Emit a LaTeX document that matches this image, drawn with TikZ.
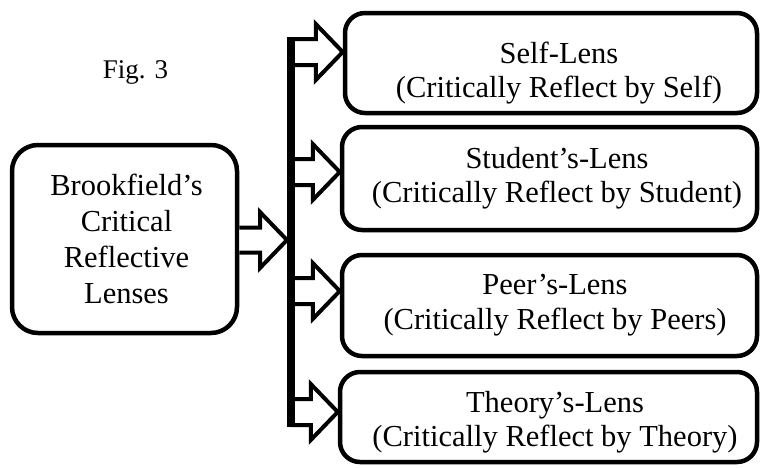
\documentclass[tikz,border=0pt]{standalone}
\usepackage{fontspec}
\setmainfont{Liberation Serif}
\usetikzlibrary{calc}
\begin{document}
\begin{tikzpicture}[x=1pt,y=-1pt,
  box/.style={draw=black,fill=white,line width=4.5pt,rounded corners=20pt,inner sep=0pt},
  txt/.style={align=center,inner sep=0pt,font=\fontsize{30.5}{34.5}\selectfont},
  blk/.style={draw=black,fill=white,line width=4pt,line join=miter},
  barline/.style={draw=black,line width=8pt}]
\useasboundingbox (0,0) rectangle (760,467);
% boxes
\node[box,rounded corners=26pt,minimum width=225pt,minimum height=188pt] (L) at (124.5,239) {};
\node[box,minimum width=412pt,minimum height=100pt] (s1) at (551,63) {};
\node[box,minimum width=415pt,minimum height=103pt] (s2) at (549.5,178.5) {};
\node[box,minimum width=415pt,minimum height=101pt] (s3) at (549.5,305.5) {};
\node[box,minimum width=417pt,minimum height=90pt] (s4) at (548.5,417) {};
% texts
\node[anchor=base,inner sep=0pt,font=\fontsize{27}{30}\selectfont] (fig) at (135.5,78) {Fig. 3};
\node[txt,font=\fontsize{30.5}{36}\selectfont] (tL) at (126.5,238.5) {Brookfield’s\\Critical\\Reflective\\Lenses};
\node[txt] (t1) at (559,72.8) {Self-Lens\\(Critically Reflect by Self)};
\node[txt] (t2) at (557,178.3) {Student’s-Lens\\(Critically Reflect by Student)};
\node[txt] (t3) at (555,305) {Peer’s-Lens\\(Critically Reflect by Peers)};
\node[txt] (t4) at (555,422) {Theory’s-Lens\\(Critically Reflect by Theory)};
% junction points on the bar
\coordinate (j0) at (287,240);
\coordinate (j1) at (291,52);
\coordinate (j2) at (291,172);
\coordinate (j3) at (291,291);
\coordinate (j4) at (291,412);
\coordinate (btop) at (291,37);
\coordinate (bbot) at (291,427);
% block arrows
\draw[blk] let \p1=(L.east), \p2=(j0) in
  (\x1,\y2+12.5pt) -- (\x2-27pt,\y2+12.5pt) -- (\x2-27pt,\y2+28pt) -- (\x2,\y2)
  -- (\x2-27pt,\y2-28pt) -- (\x2-27pt,\y2-12.5pt) -- (\x1,\y2-12.5pt);
\foreach \k in {1,2,3,4}{
\draw[blk] let \p1=(j\k), \p2=(s\k.west) in
  (\x1,\y1+13pt) -- (\x2-27pt,\y1+13pt) -- (\x2-27pt,\y1+28pt) -- (\x2,\y1)
  -- (\x2-27pt,\y1-28pt) -- (\x2-27pt,\y1-13pt) -- (\x1,\y1-13pt);
}
% bar
\draw[barline] (btop) -- (bbot);
\end{tikzpicture}
\end{document}
